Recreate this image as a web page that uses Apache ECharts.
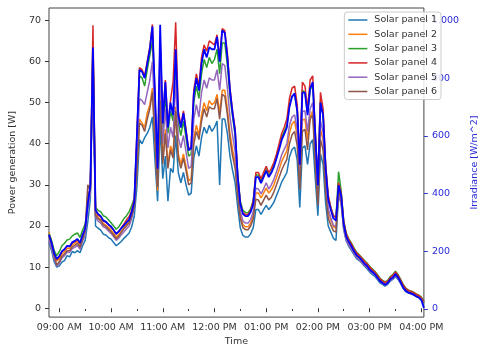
<!DOCTYPE html>
<html>
<head>
<meta charset="utf-8">
<script src="https://cdn.jsdelivr.net/npm/echarts@6/dist/echarts.min.js"></script>
<style>
html,body{margin:0;padding:0;background:#fff;}
#chart{width:488px;height:352px;}
</style>
</head>
<body>
<div id="chart"></div>
<script>
const times = ["08:48","08:51","08:54","08:57","09:00","09:03","09:06","09:09","09:12","09:15",
"09:18","09:21","09:24","09:27","09:30","09:33","09:36","09:39","09:42","09:45",
"09:48","09:51","09:54","09:57","10:00","10:03","10:06","10:09","10:12","10:15",
"10:18","10:21","10:24","10:27","10:30","10:33","10:36","10:39","10:42","10:45",
"10:48","10:51","10:54","10:57","11:00","11:03","11:06","11:09","11:12","11:15",
"11:18","11:21","11:24","11:27","11:30","11:33","11:36","11:39","11:42","11:45",
"11:48","11:51","11:54","11:57","12:00","12:03","12:06","12:09","12:12","12:15",
"12:18","12:21","12:24","12:27","12:30","12:33","12:36","12:39","12:42","12:45",
"12:48","12:51","12:54","12:57","13:00","13:03","13:06","13:09","13:12","13:15",
"13:18","13:21","13:24","13:27","13:30","13:33","13:36","13:39","13:42","13:45",
"13:48","13:51","13:54","13:57","14:00","14:03","14:06","14:09","14:12","14:15",
"14:18","14:21","14:24","14:27","14:30","14:33","14:36","14:39","14:42","14:45",
"14:48","14:51","14:54","14:57","15:00","15:03","15:06","15:09","15:12","15:15",
"15:18","15:21","15:24","15:27","15:30","15:33","15:36","15:39","15:42","15:45",
"15:48","15:51","15:54","15:57","16:00","16:03"];

const panel1 = [16.0,14.0,11.3,10.0,10.3,11.2,11.6,12.8,12.5,13.8,
13.5,14.0,13.5,15.2,16.5,21.0,26.5,60.0,20.0,19.5,
19.0,18.0,17.8,17.2,16.8,16.0,15.2,15.7,16.3,17.0,
17.6,18.3,19.8,22.5,29.5,41.0,40.0,41.5,42.5,44.0,
46.5,36.0,26.0,44.5,31.5,37.0,26.0,34.0,33.0,42.0,
33.0,30.5,33.0,30.0,27.5,28.0,36.5,39.5,37.0,41.5,
44.0,42.5,44.5,43.0,44.0,45.5,30.0,46.0,46.0,42.5,
37.0,33.5,30.5,24.5,19.5,17.7,17.3,17.3,18.1,19.6,
24.0,24.0,22.8,24.0,25.0,24.0,24.8,25.8,27.4,29.0,
30.7,31.8,33.0,36.8,38.6,39.2,36.0,24.5,39.0,39.5,
35.0,40.0,41.0,31.5,22.5,37.5,35.0,25.5,20.0,18.5,
17.0,16.5,27.5,25.5,19.0,16.3,15.0,14.0,13.0,12.0,
11.6,11.0,10.2,9.6,8.8,8.2,7.8,7.0,6.2,5.8,
5.4,5.8,6.6,7.0,7.8,7.0,6.0,4.8,4.0,3.7,
3.5,3.2,2.9,2.6,2.0,1.2];

const panel2 = [18.5,16.2,13.3,11.5,12.0,13.2,13.8,14.5,14.5,15.4,
15.8,16.3,15.2,17.2,19.0,27.5,29.0,63.0,23.0,22.0,
21.6,20.6,20.2,19.6,19.0,18.2,17.3,17.9,18.8,19.6,
20.4,21.2,22.8,25.2,34.0,46.0,45.0,44.0,47.5,49.5,
53.5,41.0,28.5,51.5,36.0,43.5,35.0,39.5,37.5,49.0,
37.5,35.0,37.5,34.5,31.0,31.5,41.5,44.5,42.0,47.0,
50.0,48.0,50.5,49.5,50.0,52.0,47.5,53.0,53.0,48.5,
42.5,38.5,35.5,28.0,22.5,20.3,19.8,19.8,20.7,22.5,
28.0,28.0,26.8,28.0,29.2,28.0,28.8,30.0,31.8,33.7,
35.7,37.0,38.3,42.6,44.8,45.5,41.8,30.5,45.7,46.0,
41.0,46.5,48.0,36.5,26.5,43.5,41.0,30.0,23.5,21.5,
19.8,19.5,28.5,26.0,19.8,17.0,15.8,14.8,13.6,12.6,
12.1,11.5,10.7,10.2,9.3,8.8,8.3,7.4,6.7,6.2,
5.8,6.2,7.0,7.4,8.2,7.4,6.4,5.2,4.4,4.0,
3.8,3.5,3.1,2.8,2.3,1.4];

const panel3 = [18.2,16.5,14.0,12.8,13.8,15.2,15.8,16.6,16.8,17.6,
18.0,18.3,17.2,19.0,20.5,25.0,29.0,65.0,24.5,23.8,
23.5,22.5,22.2,21.5,20.8,20.0,19.2,19.8,20.8,21.8,
22.5,23.5,25.0,26.8,40.5,56.5,56.0,54.0,58.0,61.5,
65.0,50.0,31.0,62.0,43.0,52.0,42.5,48.0,45.5,60.0,
45.0,42.0,45.5,41.5,37.0,37.5,50.0,54.0,51.0,57.0,
60.5,58.5,61.0,59.5,60.5,63.0,57.0,64.5,64.5,59.0,
51.5,46.5,42.0,32.5,26.0,23.8,23.3,23.2,24.2,26.2,
32.5,32.3,31.0,32.3,33.8,32.3,33.3,34.8,36.8,39.0,
41.5,43.0,44.5,49.5,51.5,52.0,48.0,35.5,53.0,52.5,
47.5,53.0,54.5,42.0,30.5,50.5,47.0,34.5,27.0,24.5,
22.5,22.0,33.2,28.5,21.2,18.2,16.8,15.8,14.6,13.6,
13.0,12.3,11.6,11.0,10.2,9.6,9.0,8.2,7.3,6.8,
6.4,6.8,7.7,8.2,9.0,8.2,7.0,5.8,4.9,4.4,
4.2,3.9,3.5,3.2,2.7,1.7];

const panel4 = [17.8,15.8,13.2,11.8,12.5,13.8,14.3,15.0,15.0,15.9,
16.2,16.7,15.8,17.6,19.2,25.5,29.5,68.8,23.8,22.6,
22.2,21.2,20.9,20.3,19.7,19.0,18.0,18.7,19.6,20.5,
21.5,22.3,23.8,26.5,42.5,58.5,58.0,56.5,60.0,63.5,
69.0,51.5,33.0,65.5,45.5,55.5,44.5,50.5,55.0,69.5,
48.0,44.5,48.0,43.5,38.5,39.5,53.0,57.0,54.0,61.0,
64.0,62.5,65.0,64.5,64.0,66.5,61.0,68.0,67.5,62.0,
53.5,48.0,43.5,32.0,25.5,23.2,22.8,22.8,23.8,26.0,
33.0,33.0,31.5,33.0,34.5,33.0,34.0,35.5,37.5,40.0,
42.5,44.0,46.0,51.0,53.5,54.0,49.5,36.0,55.0,54.0,
48.5,55.5,56.5,43.0,30.5,52.5,48.5,35.0,27.5,24.5,
22.5,22.0,30.5,28.0,21.0,18.0,16.6,15.6,14.4,13.4,
12.8,12.2,11.4,10.8,10.0,9.4,8.8,8.0,7.2,6.6,
6.3,6.6,7.5,8.0,8.8,8.0,6.8,5.6,4.8,4.3,
4.1,3.8,3.4,3.1,2.6,1.6];

const panel5 = [16.5,14.5,12.0,10.3,10.9,12.2,12.8,13.6,13.6,14.5,
14.8,15.3,14.3,16.3,17.8,24.0,28.0,62.0,22.0,21.2,
20.7,19.8,19.5,18.8,18.2,17.4,16.5,17.1,17.9,18.6,
19.3,20.0,21.8,24.3,37.0,51.0,50.5,49.5,52.5,55.5,
60.0,46.0,30.5,58.0,40.0,48.5,39.0,44.0,41.5,55.5,
41.5,39.0,42.0,38.0,34.0,34.5,46.0,49.5,46.5,52.5,
55.5,53.5,56.0,55.5,55.5,58.0,53.0,59.5,59.0,53.5,
46.5,42.0,38.0,29.5,23.5,21.2,20.7,20.7,21.6,23.5,
29.2,29.0,27.8,29.0,30.5,29.0,30.0,31.4,33.2,35.2,
37.3,38.7,40.0,44.5,46.5,47.0,43.5,31.8,47.8,48.0,
43.0,48.5,50.0,38.2,27.5,45.5,42.8,31.0,24.2,22.0,
20.2,19.8,27.5,25.5,19.3,16.5,15.3,14.4,13.2,12.3,
11.8,11.2,10.4,9.9,9.1,8.6,8.1,7.2,6.5,6.0,
5.6,6.0,6.8,7.2,8.0,7.2,6.2,5.0,4.2,3.8,
3.6,3.3,2.9,2.6,2.1,1.3];

const panel6 = [17.5,15.5,12.8,10.5,11.3,12.6,13.2,14.0,14.0,14.9,
15.3,15.8,14.8,16.8,19.0,30.0,28.5,62.0,22.5,21.8,
21.3,20.3,19.9,19.2,18.6,17.8,16.9,17.5,18.5,19.3,
20.0,20.8,22.5,24.8,33.0,45.0,44.5,43.0,46.0,48.5,
52.5,40.0,29.5,50.5,35.0,42.5,34.0,38.5,36.5,48.0,
36.5,34.0,36.5,33.5,30.0,30.5,40.0,43.0,41.0,45.5,
48.5,46.5,49.0,48.5,48.5,51.0,46.0,52.0,51.5,47.0,
41.0,37.0,34.0,27.0,21.8,19.6,19.1,19.1,20.0,21.7,
26.5,26.3,25.0,26.3,27.5,26.3,27.0,28.3,30.0,31.8,
33.6,35.0,36.2,40.0,42.2,43.0,39.5,28.8,43.0,43.5,
38.5,46.0,47.0,34.5,25.0,41.0,38.5,28.0,22.0,20.2,
18.8,18.5,29.0,26.5,20.0,17.2,16.0,15.0,13.8,12.8,
12.3,11.6,10.8,10.3,9.4,8.9,8.4,7.5,6.7,6.2,
5.8,6.2,7.1,7.5,8.4,7.5,6.4,5.1,4.3,3.9,
3.7,3.4,3.0,2.7,2.2,1.4];

const irradiance = [257,229,193,174,183,200,207,219,217,231,
236,243,229,257,279,364,429,906,343,329,
322,307,303,293,286,274,260,269,280,290,
300,310,336,372,600,829,822,800,850,900,
979,743,486,985,643,786,629,715,672,900,
672,629,679,614,550,557,743,800,757,850,
900,872,907,900,900,943,857,965,957,872,
757,679,614,457,364,329,322,322,336,364,
457,457,436,457,479,457,472,493,522,553,
586,607,629,700,736,747,686,500,750,750,
672,765,786,600,429,715,672,486,379,343,
314,307,429,393,293,250,232,217,200,186,
179,169,157,150,137,129,121,109,97,90,
84,90,103,109,121,109,93,74,63,57,
54,50,44,40,31,4];

const seriesNames = ["Solar panel 1","Solar panel 2","Solar panel 3","Solar panel 4","Solar panel 5","Solar panel 6"];
const seriesColors = ["#1f77b4","#ff7f0e","#2ca02c","#d62728","#9467bd","#8c564b"];
const xTickValues = [540,600,660,720,780,840,900,960];
const xTickLabels = ["09:00 AM","10:00 AM","11:00 AM","12:00 PM","01:00 PM","02:00 PM","03:00 PM","04:00 PM"];
const xMinorTickValues = [570,630,690,750,810,870,930];
const yLeftTicks = [0,10,20,30,40,50,60,70];
const yRightTicks = [0,200,400,600,800,1000];

const toMin = s => (+s.slice(0,2))*60 + (+s.slice(3));
const xs = times.map(toMin);
const panels = [panel1,panel2,panel3,panel4,panel5,panel6];

const FONT = 'DejaVu Sans';
const TXT = '#333';
const chart = echarts.init(document.getElementById('chart'), null, {renderer:'canvas'});

const series = panels.map((arr,k)=>({
  name: seriesNames[k], type:'line', xAxisIndex:0, yAxisIndex:0,
  data: arr.map((v,i)=>[xs[i], v]),
  symbol:'none', showSymbol:false, smooth:false,
  lineStyle:{width:1.5, color:seriesColors[k]}, itemStyle:{color:seriesColors[k]},
  z:2
}));
series.push({
  name:'Irradiance', type:'line', xAxisIndex:0, yAxisIndex:1,
  data: irradiance.map((v,i)=>[xs[i], v]),
  symbol:'none', showSymbol:false,
  lineStyle:{width:1.8, color:'#0000ff'}, itemStyle:{color:'#0000ff'},
  z:3
});

chart.setOption({
  animation:false,
  backgroundColor:'#fff',
  textStyle:{fontFamily:FONT},
  grid:{left:42, top:8, width:404, height:315, show:true, borderColor:'#444', borderWidth:1, backgroundColor:'transparent', containLabel:false},
  legend:{
    data: seriesNames.map(n=>({name:n, icon:'path://M0,0H20V1.6H0Z'})),
    orient:'vertical', right:47, top:12,
    itemWidth:19, itemHeight:10, itemGap:4.3,
    symbolKeepAspect:true,
    padding:[3,4,3,4],
    backgroundColor:'rgba(255,255,255,0.85)', borderColor:'#cccccc', borderWidth:1, borderRadius:3,
    textStyle:{fontFamily:FONT, fontSize:9.5, color:TXT, padding:[0,0,0,2]}
  },
  xAxis:[{
    type:'value', min:528, max:963, gridIndex:0,
    axisLine:{show:false}, splitLine:{show:false},
    axisTick:{show:true, customValues:xTickValues, length:4, lineStyle:{color:'#333'}},
    axisLabel:{customValues:xTickValues, formatter:(v)=>xTickLabels[xTickValues.indexOf(v)], fontFamily:FONT, fontSize:9.5, color:TXT, margin:5},
    name:'Time', nameLocation:'middle', nameGap:18, nameTextStyle:{fontFamily:FONT, fontSize:9.5, color:TXT}
  },{
    type:'value', min:528, max:963, gridIndex:0, position:'bottom',
    axisLine:{show:false}, splitLine:{show:false}, axisLabel:{show:false},
    axisTick:{show:true, customValues:xMinorTickValues, length:2, lineStyle:{color:'#333'}}
  }],
  yAxis:[{
    type:'value', min:-2.15, max:73.0, position:'left',
    axisLine:{show:false}, splitLine:{show:false},
    axisTick:{show:true, customValues:yLeftTicks, length:4, lineStyle:{color:'#333'}},
    axisLabel:{customValues:yLeftTicks, fontFamily:FONT, fontSize:9.5, color:TXT, margin:8},
    name:'Power generation [W]', nameLocation:'middle', nameGap:24, nameRotate:90,
    nameTextStyle:{fontFamily:FONT, fontSize:9.5, color:TXT}
  },{
    type:'value', min:-28, max:1043, position:'right',
    axisLine:{show:false}, splitLine:{show:false},
    axisTick:{show:true, customValues:yRightTicks, length:4, lineStyle:{color:'#3333cc'}},
    axisLabel:{customValues:yRightTicks, fontFamily:FONT, fontSize:9.5, color:'#2929d6', margin:8},
    name:'Irradiance [W/m^2]', nameLocation:'middle', nameGap:26, nameRotate:90,
    nameTextStyle:{fontFamily:FONT, fontSize:9.5, color:'#2929d6'}
  }],
  series: series
});
</script>
</body>
</html>
